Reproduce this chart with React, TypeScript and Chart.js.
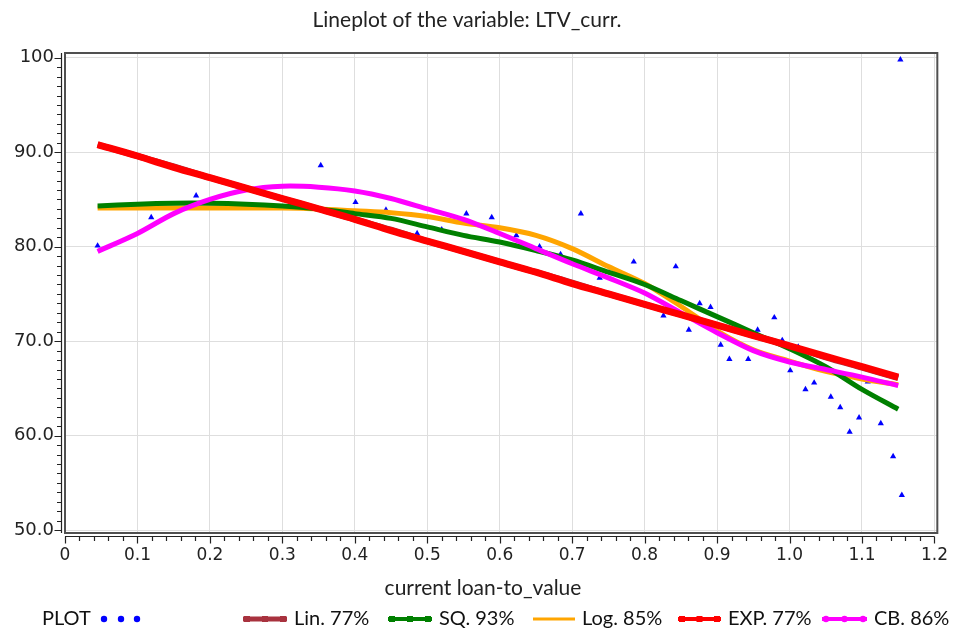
import React, { useEffect, useRef } from "react";
import { Chart, registerables } from "chart.js";

Chart.register(...registerables);

const TITLE = "Lineplot of the variable: LTV_curr.";
const X_TITLE = "current loan-to_value";

const X_TICKS = [0, 0.1, 0.2, 0.3, 0.4, 0.5, 0.6, 0.7, 0.8, 0.9, 1.0, 1.1, 1.2];
const X_TICK_LABELS = ["0", "0.1", "0.2", "0.3", "0.4", "0.5", "0.6", "0.7", "0.8", "0.9", "1.0", "1.1", "1.2"];
const Y_TICKS = [50, 60, 70, 80, 90, 100];
const Y_TICK_LABELS = ["50.0", "60.0", "70.0", "80.0", "90.0", "100"];

const SERIES_NAMES = ["PLOT", "Lin. 77%", "SQ. 93%", "Log. 85%", "EXP. 77%", "CB. 86%"];
const SERIES_COLORS = ["#0000ff", "#a8323e", "#008000", "#ffa500", "#ff0000", "#ff00ff"];

// observed points
const PLOT_X = [0.045, 0.119, 0.181, 0.353, 0.401, 0.443, 0.486, 0.52, 0.554, 0.589, 0.623, 0.655, 0.684, 0.712, 0.738, 0.785, 0.826, 0.843, 0.861, 0.876, 0.891, 0.905, 0.917, 0.943, 0.956, 0.979, 0.99, 1.001, 1.012, 1.022, 1.034, 1.057, 1.07, 1.083, 1.096, 1.108, 1.126, 1.143, 1.155, 1.153];
const PLOT_Y = [80.1, 83.1, 85.4, 88.6, 84.7, 83.9, 81.4, 81.8, 83.5, 83.1, 81.2, 80.0, 79.2, 83.5, 76.7, 78.4, 72.7, 77.9, 71.2, 74.0, 73.6, 69.6, 68.1, 68.1, 71.2, 72.5, 70.1, 66.9, 69.4, 64.9, 65.6, 64.1, 63.0, 60.4, 61.9, 65.7, 61.3, 57.8, 53.7, 99.8];

// fitted curves
const FIT_X = [0.045, 0.1, 0.15, 0.2, 0.25, 0.3, 0.35, 0.4, 0.45, 0.5, 0.55, 0.6, 0.65, 0.7, 0.75, 0.8, 0.85, 0.9, 0.95, 1.0, 1.05, 1.1, 1.15];
const LIN_Y = [90.8, 89.6, 88.5, 87.3, 86.2, 85.1, 84.0, 82.9, 81.8, 80.6, 79.5, 78.4, 77.3, 76.2, 75.0, 73.9, 72.8, 71.7, 70.6, 69.5, 68.3, 67.2, 66.1];
const SQ_Y = [84.3, 84.5, 84.6, 84.6, 84.5, 84.3, 84.0, 83.5, 83.0, 82.1, 81.2, 80.5, 79.6, 78.6, 77.3, 76.0, 74.3, 72.6, 70.9, 69.2, 67.3, 64.9, 62.8];
const LOG_Y = [84.1, 84.1, 84.1, 84.1, 84.1, 84.1, 84.0, 83.8, 83.6, 83.2, 82.5, 82.0, 81.2, 79.8, 77.9, 76.1, 73.7, 71.1, 69.1, 67.9, 66.8, 66.0, 65.4];
const EXP_Y = [90.8, 89.6, 88.4, 87.3, 86.2, 85.1, 84.0, 82.9, 81.7, 80.6, 79.5, 78.4, 77.3, 76.1, 75.0, 73.9, 72.8, 71.7, 70.6, 69.5, 68.4, 67.3, 66.2];
const CB_Y = [79.5, 81.4, 83.5, 85.0, 86.0, 86.4, 86.3, 85.9, 85.1, 84.0, 82.9, 81.4, 79.8, 78.2, 76.7, 75.1, 73.0, 70.9, 69.0, 67.8, 67.0, 66.2, 65.3];

const TEXT_FONT = "Lato, 'Open Sans', sans-serif";
const TICK_FONT = "'DejaVu Sans', Verdana, sans-serif";

const pts = (xs: number[], ys: number[]) => xs.map((x, i) => ({ x, y: ys[i] }));

const decorPlugin = {
  id: "decor",
  afterDraw(chart: any) {
    const { ctx, chartArea } = chart;
    const { left, right, top, bottom } = chartArea;
    const xs = chart.scales.x;
    const ys = chart.scales.y;
    ctx.save();
    // frame
    ctx.strokeStyle = "#505050";
    ctx.lineWidth = 2;
    ctx.strokeRect(left, top, right - left, bottom - top);

    // y axis line + ticks
    ctx.strokeStyle = "#222";
    ctx.lineWidth = 1.2;
    const ax = left - 3.5;
    ctx.beginPath();
    ctx.moveTo(ax, top);
    ctx.lineTo(ax, bottom);
    for (let v = 50; v <= 100; v += 1) {
      const y = Math.round(ys.getPixelForValue(v)) + 0.5;
      const major = v % 10 === 0;
      ctx.moveTo(ax, y);
      ctx.lineTo(ax - (major ? 7 : 4.5), y);
    }
    // x axis line + ticks
    const ay = bottom + 3.5;
    ctx.moveTo(xs.getPixelForValue(0), ay);
    ctx.lineTo(xs.getPixelForValue(1.2), ay);
    for (let k = 0; k <= 60; k++) {
      const x = Math.round(xs.getPixelForValue(k * 0.02)) + 0.5;
      const major = k % 5 === 0;
      ctx.moveTo(x, ay);
      ctx.lineTo(x, ay + (major ? 7 : 4.5));
    }
    ctx.stroke();

    // title
    ctx.fillStyle = "#222";
    ctx.textAlign = "center";
    ctx.textBaseline = "middle";
    ctx.font = `21px ${TEXT_FONT}`;
    ctx.fillText(TITLE, 467, 20);
    // x title
    ctx.font = `21px ${TEXT_FONT}`;
    ctx.fillText(X_TITLE, 483, 588);

    // legend
    const ly = 619;
    ctx.textAlign = "left";
    ctx.font = `20px ${TEXT_FONT}`;
    const ds = chart.data.datasets;
    // PLOT
    ctx.fillStyle = "#111";
    ctx.fillText(ds[0].label, 42, ly);
    ctx.fillStyle = SERIES_COLORS[0];
    [104, 121, 137].forEach((cx) => {
      ctx.beginPath();
      ctx.arc(cx, ly, 3.2, 0, Math.PI * 2);
      ctx.fill();
    });
    const symX = [243, 388, 533, 678, 822];
    const symW = [44, 44, 42, 43, 45];
    const symLW = [5, 4, 3, 4, 4];
    for (let i = 1; i < 6; i++) {
      const x0 = symX[i - 1];
      const w = symW[i - 1];
      const c = SERIES_COLORS[i];
      ctx.strokeStyle = c;
      ctx.lineWidth = symLW[i - 1];
      ctx.beginPath();
      ctx.moveTo(x0, ly);
      ctx.lineTo(x0 + w, ly);
      ctx.stroke();
      if (i !== 3) {
        ctx.fillStyle = c;
        [x0 + 4, x0 + w / 2, x0 + w - 4].forEach((mx) => {
          ctx.beginPath();
          if (i === 5) ctx.arc(mx, ly, 3.2, 0, Math.PI * 2);
          else ctx.rect(mx - 3, ly - 3, 6, 6);
          ctx.fill();
        });
      }
      ctx.fillStyle = "#111";
      ctx.fillText(ds[i].label, x0 + w + 7, ly);
    }
    ctx.restore();
  },
};

export default function App() {
  const ref = useRef<HTMLCanvasElement | null>(null);
  useEffect(() => {
    document.body.style.margin = "0";
    const canvas = ref.current!;
    const lineDs = (i: number, ys: number[], w: number, order: number) => ({
      type: "line" as const,
      label: SERIES_NAMES[i],
      data: pts(FIT_X, ys),
      borderColor: SERIES_COLORS[i],
      backgroundColor: SERIES_COLORS[i],
      borderWidth: w,
      pointRadius: 0,
      tension: 0.3,
      fill: false,
      order,
    });
    const chart = new Chart(canvas, {
      type: "scatter",
      data: {
        datasets: [
          {
            type: "scatter" as const,
            label: SERIES_NAMES[0],
            data: pts(PLOT_X, PLOT_Y),
            pointStyle: "triangle",
            pointRadius: 3.6,
            borderWidth: 0,
            backgroundColor: SERIES_COLORS[0],
            borderColor: SERIES_COLORS[0],
            order: 10,
          } as any,
          lineDs(1, LIN_Y, 6, 6),
          lineDs(2, SQ_Y, 5, 4),
          lineDs(3, LOG_Y, 5, 5),
          lineDs(4, EXP_Y, 7, 1),
          lineDs(5, CB_Y, 5, 2),
        ],
      },
      options: {
        animation: false,
        responsive: false,
        maintainAspectRatio: false,
        layout: { padding: { top: 53, right: 17, left: 0, bottom: 0 } },
        plugins: { legend: { display: false }, title: { display: false }, tooltip: { enabled: false } },
        scales: {
          x: {
            type: "linear",
            min: 0,
            max: 1.204,
            afterBuildTicks: (s: any) => {
              s.ticks = X_TICKS.map((v) => ({ value: v }));
            },
            afterFit: (s: any) => {
              s.height = 101;
            },
            ticks: {
              callback: (_v: any, i: number) => X_TICK_LABELS[i],
              font: { family: TICK_FONT, size: 17 },
              color: "#222",
              padding: 12,
              maxRotation: 0,
              autoSkip: false,
            },
            grid: { color: "#dedede", lineWidth: 1, drawTicks: false },
            border: { display: false },
          },
          y: {
            type: "linear",
            min: 49.7,
            max: 100.5,
            afterBuildTicks: (s: any) => {
              s.ticks = Y_TICKS.map((v) => ({ value: v }));
            },
            afterFit: (s: any) => {
              s.width = 65;
            },
            ticks: {
              callback: (_v: any, i: number) => Y_TICK_LABELS[i],
              font: { family: TICK_FONT, size: 18 },
              color: "#222",
              padding: 11,
            },
            grid: { color: "#dedede", lineWidth: 1, drawTicks: false },
            border: { display: false },
          },
        },
      },
      plugins: [decorPlugin],
    });
    return () => chart.destroy();
  }, []);
  return (
    <div style={{ width: 960, height: 634, background: "#fff" }}>
      <canvas ref={ref} width={960} height={634} style={{ display: "block" }} />
    </div>
  );
}
